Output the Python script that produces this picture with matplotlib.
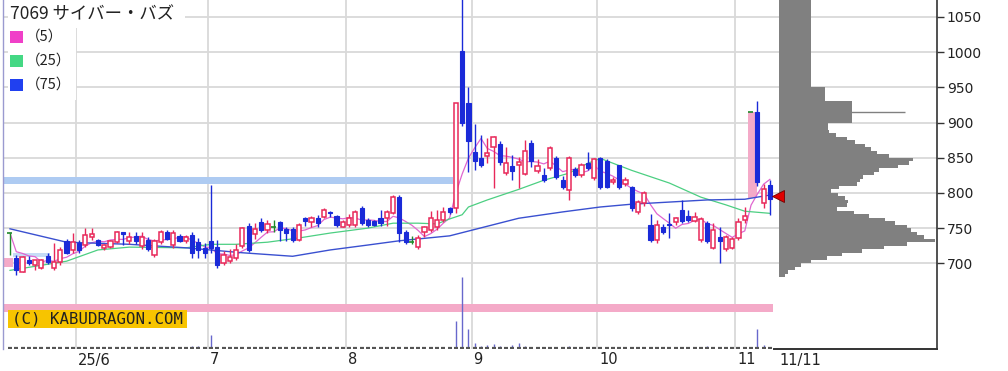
import matplotlib
matplotlib.use("Agg")
import matplotlib.pyplot as plt
from matplotlib.patches import Rectangle
import numpy as np
import pandas as pd

# ---------------- data ----------------
title = "7069 サイバー・バズ"
ma_labels = ["（5）", "（25）", "（75）"]

opens = [743, 708, 688, 705, 697, 693, 710, 693, 702, 732, 719, 729, 726, 737, 733, 722, 723, 730, 744, 731,
         739, 724, 733, 712, 730, 744, 726, 739, 731, 740, 730, 722, 731, 723, 701, 704, 708, 724, 753, 742,
         758, 747, 752, 758, 749, 749, 733, 765, 759, 764, 766, 773, 767, 752, 754, 755, 778, 762, 760, 764,
         765, 772, 794, 744, 730, 723, 744, 747, 752, 761, 779, 778, 1001, 928, 858, 849, 853, 865, 869, 828,
         838, 840, 827, 871, 831, 825, 835, 849, 818, 804, 834, 825, 842, 821, 849, 845, 815, 839, 813, 808,
         773, 785, 755, 733, 752, 756, 758, 776, 767, 760, 733, 757, 722, 737, 720, 722, 736, 761, 915, 915,
         786, 811]
highs = [743, 712, 711, 710, 705, 706, 714, 729, 723, 734, 743, 733, 750, 750, 734, 727, 733, 746, 744, 744,
         745, 745, 737, 734, 747, 747, 747, 741, 740, 744, 736, 729, 811, 733, 718, 721, 728, 752, 757, 757,
         764, 761, 762, 760, 752, 752, 757, 766, 767, 769, 779, 774, 769, 761, 770, 776, 781, 764, 762, 776,
         776, 797, 797, 747, 739, 740, 753, 775, 776, 780, 780, 928, 1090, 950, 898, 882, 878, 881, 874, 865,
         854, 851, 875, 875, 848, 836, 866, 852, 824, 852, 837, 842, 858, 850, 851, 848, 822, 840, 822, 810,
         790, 803, 770, 762, 756, 771, 766, 790, 776, 773, 766, 760, 757, 751, 740, 737, 765, 780, 915, 930,
         812, 818]
lows = [712, 683, 687, 697, 690, 692, 699, 691, 698, 713, 714, 714, 723, 733, 725, 719, 722, 729, 726, 727,
        727, 721, 717, 709, 728, 733, 722, 730, 729, 708, 708, 708, 715, 694, 697, 700, 705, 722, 716, 735,
        745, 743, 745, 731, 731, 730, 731, 753, 752, 751, 764, 766, 752, 751, 752, 752, 755, 752, 753, 753,
        753, 770, 730, 727, 728, 721, 737, 744, 747, 758, 770, 771, 895, 830, 832, 837, 843, 807, 840, 826,
        818, 807, 825, 837, 828, 815, 832, 820, 805, 790, 822, 823, 833, 818, 806, 807, 812, 806, 810, 775,
        770, 782, 730, 729, 742, 736, 755, 757, 759, 758, 730, 729, 720, 700, 718, 720, 733, 757, 915, 810,
        778, 768]
closes = [743, 690, 709, 700, 705, 705, 702, 702, 719, 715, 730, 719, 740, 742, 726, 726, 732, 744, 742, 738,
          731, 738, 720, 732, 744, 735, 743, 731, 737, 714, 719, 715, 722, 698, 712, 709, 719, 750, 719, 749,
          748, 756, 752, 747, 743, 733, 754, 760, 764, 757, 776, 771, 754, 758, 765, 773, 757, 755, 755, 757,
          773, 794, 743, 730, 730, 736, 751, 764, 761, 773, 773, 927, 900, 874, 846, 840, 856, 879, 844, 842,
          831, 844, 860, 846, 838, 818, 864, 823, 808, 849, 825, 839, 835, 848, 808, 809, 819, 808, 818, 778,
          787, 800, 733, 754, 744, 754, 764, 760, 761, 766, 763, 732, 747, 732, 738, 735, 758, 767, 915, 816,
          806, 792]
volumes = [40, 60, 50, 40, 30, 50, 40, 60, 50, 40, 30, 40, 50, 40, 30, 30, 40, 50, 40, 30,
           30, 40, 40, 50, 40, 30, 40, 30, 30, 150, 150, 60, 700, 120, 60, 50, 50, 80, 70, 50,
           40, 40, 30, 40, 30, 40, 50, 40, 30, 30, 50, 30, 40, 30, 30, 40, 50, 30, 30, 30,
           40, 80, 90, 50, 30, 30, 40, 50, 40, 50, 40, 1400, 3600, 1000, 300, 150, 200, 250, 150, 100,
           200, 300, 150, 100, 70, 60, 60, 50, 40, 150, 50, 40, 50, 50, 60, 50, 30, 40, 30, 50,
           40, 50, 100, 60, 40, 100, 40, 50, 30, 30, 60, 150, 100, 60, 40, 30, 60, 50, 60, 1000,
           200, 70]

# 25-day and 75-day moving averages (day index, price)
ma25_idx = [0, 9, 14, 19, 28, 32, 36, 41, 46, 51, 57, 61, 65, 68, 70, 72, 73, 76, 81, 85, 89, 92, 94, 99,
            105, 110, 114, 117, 121]
ma25_val = [690, 703, 719, 723, 722, 727, 727, 730, 736, 743, 750, 757, 757, 756, 763, 769, 780, 790, 805,
            818, 828, 842, 849, 832, 814, 794, 783, 774, 771]
ma75_idx = [0, 9, 19, 28, 37, 45, 51, 57, 62, 70, 81, 88, 94, 99, 105, 111, 117, 121]
ma75_val = [749, 730, 727, 722, 715, 710, 719, 726, 732, 739, 764, 773, 780, 784, 787, 790, 791, 797]

# month boundaries (between trading days) and labels
month_bounds = [10.5, 31.5, 53.5, 73.5, 93.5, 115.5]
month_labels = ["25/6", "7", "8", "9", "10", "11"]
last_date_label = "11/11"

# price-volume profile (5-yen bins, lower edges from 680)
vp_low_start = 680
vp_volume = [6, 9, 16, 22, 32, 48, 63, 83, 105, 128,
             156, 145, 138, 132, 128, 116, 106, 90, 75, 58,
             68, 69, 66, 59, 52, 60, 78, 81, 84, 95,
             100, 119, 130, 134, 110, 98, 92, 86, 76, 68,
             57, 50, 49, 49, 73, 73, 73, 73, 73, 73,
             46, 46, 46, 46,
             32, 32, 32, 32, 32, 32, 32, 32, 32, 32, 32, 32, 32, 32, 32, 32, 32, 32, 32, 32, 32, 32, 32, 32, 32]
vp_spike_price = 915
vp_spike_volume = 126

# unfilled gap bands (start idx, end idx, low, high, colour)
gap_bands = [(-1.2, 70.5, 813, 823, "#aecbf2"),
             (-1.2, 0.45, 695, 708, "#f4aac8"),
             (0.45, 6.3, 709, 714, "#c6dcf6"),
             (-1.2, 121.5, 631, 642, "#f4aac8"),
             (117.5, 118.95, 793, 915, "#f4aac8")]

# ---------------- figure ----------------
W, H = 1008, 371
fig = plt.figure(figsize=(W / 100, H / 100), dpi=100)
L_px, R_px, T_px, B_px = 3, 937, 0, 349
ax = fig.add_axes([L_px / W, 1 - B_px / H, (R_px - L_px) / W, (B_px - T_px) / H])

X0_PX, DX_PX = 10, 6.28
xmin = (L_px - X0_PX) / DX_PX
xmax = (R_px - X0_PX) / DX_PX
ax.set_xlim(xmin, xmax)
ax.set_ylim(578.3, 1074.0)

up_c = "#e8285a"
dn_c = "#1a2ad8"
dj_c = "#1f8a2a"

# grid
yt = [700, 750, 800, 850, 900, 950, 1000, 1050]
ax.set_yticks(yt)
ax.set_yticklabels([str(v) for v in yt])
ax.yaxis.tick_right()
ax.tick_params(axis="y", length=5, width=1, color="#333333", labelsize=10, labelcolor="#222222", pad=2)
ax.set_xticks([])
ax.grid(axis="y", color="#d9d9d9", lw=1.3, zorder=0)
for b in month_bounds:
    ax.axvline(b, color="#d9d9d9", lw=1.3, zorder=0.5)
ax.set_axisbelow(True)

for s in ["top", "bottom"]:
    ax.spines[s].set_visible(False)
ax.spines["left"].set_color("#9a9ad0")
ax.spines["left"].set_linewidth(1.0)
ax.spines["right"].set_color("#333333")
ax.spines["right"].set_linewidth(1.2)

# gap bands
for x0, x1, lo, hi, col in gap_bands:
    ax.add_patch(Rectangle((x0, lo), x1 - x0, hi - lo, facecolor=col, edgecolor="none", zorder=1))

# price-volume profile
base = (779 - X0_PX) / DX_PX
vp_lows = vp_low_start + 5 * np.arange(len(vp_volume))
ax.barh(vp_lows, np.array(vp_volume) / DX_PX, height=5, left=base, align="edge",
        color="#808080", edgecolor="none", zorder=1.5)
ax.hlines(vp_spike_price, base, base + vp_spike_volume / DX_PX, color="#808080", lw=1.0, zorder=1.5)

# moving averages
idx = np.arange(len(closes))
ma5 = pd.Series(closes, dtype=float).rolling(5, min_periods=1).mean()
ax.plot(idx, ma5, color="#e066d0", lw=0.9, zorder=2)
ax.plot(ma25_idx, ma25_val, color="#4ccf82", lw=0.9, zorder=2)
ax.plot(ma75_idx, ma75_val, color="#3a50d0", lw=1.0, zorder=2)

# candles
bw = 0.66
for i in idx:
    o, h, l, c = opens[i], highs[i], lows[i], closes[i]
    if c > o:
        ax.vlines(i, l, h, color=up_c, lw=1.0, zorder=3)
        ax.add_patch(Rectangle((i - bw / 2, o), bw, c - o, facecolor="white", edgecolor=up_c, lw=1.1, zorder=3.5))
    elif c < o:
        ax.vlines(i, l, h, color=dn_c, lw=1.0, zorder=3)
        ax.add_patch(Rectangle((i - bw / 2, c), bw, o - c, facecolor=dn_c, edgecolor=dn_c, lw=0.8, zorder=3.5))
    else:
        if h > l:
            ax.vlines(i, l, h, color=dj_c, lw=1.0, zorder=3)
        ax.hlines(o, i - bw / 2 - 0.1, i + bw / 2, color=dj_c, lw=1.2, zorder=3.5)

# last price marker
ax.plot([(778 - X0_PX) / DX_PX], [closes[-1] + 3], marker="<", markersize=8, color="#e00000",
        mec="#700000", mew=0.6, zorder=4, clip_on=False)

# volume (bottom strip)
vtrans = ax.get_xaxis_transform()
vscale = 3600 / (72 / 349)
ax.vlines(idx, 0, np.array(volumes) / vscale, color="#6868cc", lw=1.0, transform=vtrans, zorder=2)
ax.hlines([0.003] * len(idx), idx - 0.32, idx + 0.32, color="#555555", lw=1.6, transform=vtrans, zorder=2)
ax.plot([121.6, xmax], [0, 0], color="#333333", lw=1.4, transform=vtrans, clip_on=False, zorder=2)

# x labels
for b, lab in zip(month_bounds, month_labels):
    ax.text(b + 0.3, -11 / 349, lab, transform=vtrans, ha="left", va="center", fontsize=10.5, color="#222222")
ax.text(122.6, -11 / 349, last_date_label, transform=vtrans, ha="left", va="center", fontsize=10.5,
        color="#222222")

# legend box + title
def fig_rect(x0, y0, x1, y1, **kw):
    fig.add_artist(Rectangle((x0 / W, 1 - y1 / H), (x1 - x0) / W, (y1 - y0) / H,
                             transform=fig.transFigure, **kw))

fig_rect(8, 0, 185, 28, facecolor="white", edgecolor="none", zorder=5)
fig_rect(8, 0, 76, 100, facecolor="white", edgecolor="none", zorder=5)
fig.text(10 / W, 1 - 14 / H, title, fontsize=12.5, family=["Noto Sans CJK JP", "DejaVu Sans"],
         color="#222222", ha="left", va="center", zorder=6)
leg_cols = ["#f040c8", "#44d884", "#2040f0"]
for k, (lab, col) in enumerate(zip(ma_labels, leg_cols)):
    yc = 37 + 24 * k
    fig_rect(10, yc - 6, 23, yc + 6, facecolor=col, edgecolor="none", zorder=6)
    fig.text(26 / W, 1 - yc / H, lab, fontsize=10.5, family=["Noto Sans CJK JP", "DejaVu Sans"],
             color="#222222", ha="left", va="center", zorder=6)

# copyright label
fig_rect(8, 310, 187, 328, facecolor="#f7c400", edgecolor="none", zorder=5)
fig.text(12 / W, 1 - 319.5 / H, "(C) KABUDRAGON.COM", fontsize=11.3, family="DejaVu Sans Mono",
         color="#222222", ha="left", va="center", zorder=6)

fig.savefig("out.png", dpi=100, facecolor="white")
